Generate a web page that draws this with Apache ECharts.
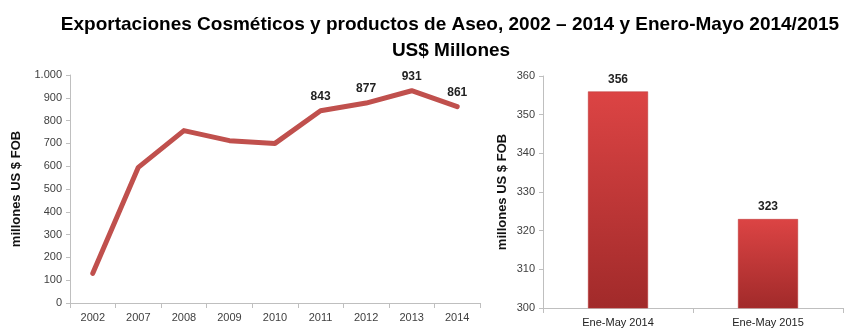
<!DOCTYPE html>
<html><head><meta charset="utf-8">
<script src="https://cdn.jsdelivr.net/npm/echarts@6/dist/echarts.min.js"></script>
<style>html,body{margin:0;padding:0;background:#fff}#c{width:845px;height:330px}</style>
</head><body><div id="c"></div>
<script>
const years = ['2002','2007','2008','2009','2010','2011','2012','2013','2014'];
const exportValues = [130, 595, 756, 712, 700, 843, 877, 931, 861];
const labeledYears = ['2011','2012','2013','2014'];
const periods = ['Ene-May 2014','Ene-May 2015'];
const periodValues = [356, 323];
const yTitle = 'millones US $ FOB';
const titleLine1 = 'Exportaciones Cosméticos y productos de Aseo, 2002 – 2014 y Enero-Mayo 2014/2015';
const titleLine2 = 'US$ Millones';

const chart = echarts.init(document.getElementById('c'));
const axisGray = '#bfbfbf';
const lblColor = '#404040';
const fontF = 'Liberation Sans, Arial, sans-serif';
chart.setOption({
  animation: false,
  title: [
    {text: titleLine1, left: 445, top: 10, textAlign: 'center',
     textStyle: {fontFamily: 'Liberation Sans Narrow, Arial Narrow, Liberation Sans, sans-serif', fontWeight: 'bold', fontSize: 19, color: '#000'}},
    {text: titleLine2, left: 446, top: 36, textAlign: 'center',
     textStyle: {fontFamily: 'Liberation Sans Narrow, Arial Narrow, Liberation Sans, sans-serif', fontWeight: 'bold', fontSize: 19, color: '#000'}}
  ],
  grid: [
    {left: 70, right: 365, top: 75, bottom: 27},
    {left: 543, right: 2, top: 76, bottom: 22}
  ],
  xAxis: [
    {type: 'category', gridIndex: 0, data: years, boundaryGap: true,
     axisLine: {lineStyle: {color: axisGray}}, axisTick: {show: true, length: 5, lineStyle: {color: axisGray}},
     axisLabel: {color: lblColor, fontSize: 11, fontFamily: fontF, margin: 9}},
    {type: 'category', gridIndex: 1, data: periods, boundaryGap: true,
     axisLine: {lineStyle: {color: axisGray}}, axisTick: {show: true, length: 5, lineStyle: {color: axisGray}},
     axisLabel: {color: '#222', fontSize: 11, fontFamily: fontF, margin: 9}}
  ],
  yAxis: [
    {type: 'value', gridIndex: 0, min: 0, max: 1000, interval: 100,
     name: yTitle, nameLocation: 'middle', nameGap: 47, nameRotate: 90,
     nameTextStyle: {fontWeight: 'bold', fontSize: 13, color: '#111', fontFamily: fontF},
     axisLine: {show: true, lineStyle: {color: axisGray}}, axisTick: {show: true, length: 4, lineStyle: {color: axisGray}},
     splitLine: {show: false},
     axisLabel: {color: lblColor, fontSize: 11, fontFamily: fontF, margin: 8,
       formatter: v => v >= 1000 ? (Math.floor(v/1000) + '.' + String(v%1000).padStart(3,'0')) : String(v)}},
    {type: 'value', gridIndex: 1, min: 300, max: 360, interval: 10,
     name: yTitle, nameLocation: 'middle', nameGap: 34, nameRotate: 90,
     nameTextStyle: {fontWeight: 'bold', fontSize: 13, color: '#111', fontFamily: fontF},
     axisLine: {show: true, lineStyle: {color: axisGray}}, axisTick: {show: true, length: 4, lineStyle: {color: axisGray}},
     splitLine: {show: false},
     axisLabel: {color: lblColor, fontSize: 11, fontFamily: fontF, margin: 8}}
  ],
  series: [
    {type: 'line', xAxisIndex: 0, yAxisIndex: 0, symbol: 'circle', symbolSize: 1, showSymbol: true,
     itemStyle: {color: '#c0504d'},
     lineStyle: {color: '#c0504d', width: 5, join: 'round', cap: 'round'},
     label: {show: false},
     data: exportValues.map((v, i) => ({value: v,
       label: {show: labeledYears.includes(years[i]), position: 'top', distance: 8,
               color: '#222', fontSize: 12, fontWeight: 'bold', fontFamily: fontF}}))},
    {type: 'bar', xAxisIndex: 1, yAxisIndex: 1, barWidth: '40%',
     itemStyle: {color: new echarts.graphic.LinearGradient(0, 0, 0, 1, [
        {offset: 0, color: '#dc4444'}, {offset: 1, color: '#a12a2a'}]),
       borderColor: '#b83333', borderWidth: 0.5},
     label: {show: true, position: 'top', distance: 6, color: '#222', fontSize: 12, fontWeight: 'bold', fontFamily: fontF},
     data: periodValues}
  ]
});
</script></body></html>
